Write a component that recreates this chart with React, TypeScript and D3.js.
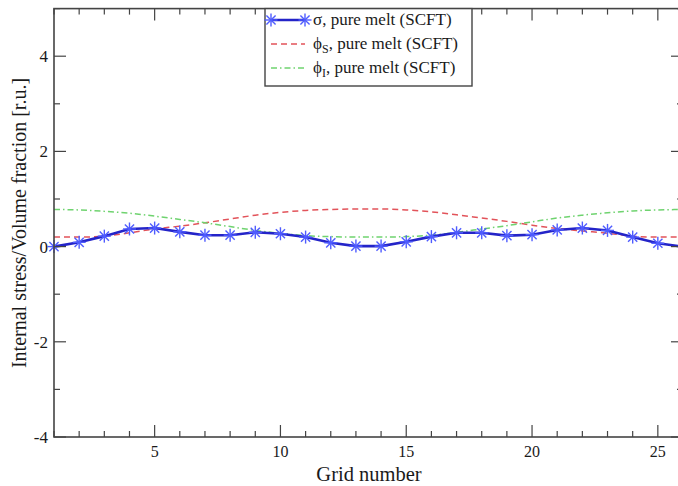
import React from "react";
import * as d3 from "d3";

const gridNumbers = d3.range(1, 27);
const sigma = [0.0, 0.09, 0.22, 0.37, 0.39, 0.31, 0.24, 0.24, 0.3, 0.27, 0.2, 0.08, 0.01, 0.01, 0.1, 0.21, 0.29, 0.29, 0.23, 0.25, 0.35, 0.39, 0.34, 0.2, 0.07, 0.0];
const phiS = [0.2, 0.2, 0.22, 0.29, 0.37, 0.43, 0.5, 0.58, 0.66, 0.72, 0.76, 0.78, 0.79, 0.79, 0.77, 0.73, 0.67, 0.6, 0.53, 0.45, 0.38, 0.33, 0.28, 0.22, 0.2, 0.2];
const phiI = [0.78, 0.77, 0.74, 0.7, 0.64, 0.57, 0.5, 0.42, 0.34, 0.28, 0.23, 0.21, 0.2, 0.2, 0.21, 0.24, 0.3, 0.37, 0.44, 0.52, 0.6, 0.66, 0.71, 0.75, 0.77, 0.78];
const xMajorTicks = [5, 10, 15, 20, 25];
const yMajorTicks = [-4, -2, 0, 2, 4];
const legendLabels = ["σ, pure melt (SCFT)", "ϕ", "ϕ"];

const W = 678;
const H = 486;
const L = 54, R = 683, T = 8.6, B = 437;
const FONT = "'Liberation Serif', 'DejaVu Serif', serif";
const AXIS = "#444";
const TXT = "#1a1a1a";
const BLUE = "#2424c8";
const STAR = "#4f5cff";
const RED = "#e2535a";
const GREEN = "#6fd36f";

function Star({ cx, cy, r }: { cx: number; cy: number; r: number }) {
  const angles = [0, 45, 90, 135];
  return (
    <g>
      {angles.map((a) => {
        const rad = (a * Math.PI) / 180;
        return (
          <line
            key={a}
            x1={cx - r * Math.cos(rad)}
            y1={cy - r * Math.sin(rad)}
            x2={cx + r * Math.cos(rad)}
            y2={cy + r * Math.sin(rad)}
            stroke={STAR}
            strokeWidth={1.4}
          />
        );
      })}
    </g>
  );
}

export default function App() {
  const x = d3.scaleLinear().domain([1, 26]).range([L, R]);
  const y = d3.scaleLinear().domain([-4, 5]).range([B, T]);

  const line = d3
    .line<number>()
    .x((_, i) => x(gridNumbers[i]))
    .y((d) => y(d));
  const smooth = d3
    .line<number>()
    .x((_, i) => x(gridNumbers[i]))
    .y((d) => y(d))
    .curve(d3.curveMonotoneX);

  const xMinor = d3.range(1, 27);
  const yMinor = d3.range(-4, 6);

  const lx1 = 271, lx2 = 305, ltx = 313;
  const rows = [20, 44, 68];

  return (
    <svg width={W} height={H} style={{ position: "absolute", left: 0, top: 0, background: "#fff" }}>
      <rect x={0} y={0} width={W} height={H} fill="#fff" />
      <path d={smooth(phiS) || ""} fill="none" stroke={RED} strokeWidth={1.5} strokeDasharray="6,4" />
      <path d={smooth(phiI) || ""} fill="none" stroke={GREEN} strokeWidth={1.5} strokeDasharray="6,3,1.5,3" />
      <path d={line(sigma) || ""} fill="none" stroke={BLUE} strokeWidth={2.6} />
      {sigma.map((v, i) => (
        <Star key={i} cx={x(gridNumbers[i])} cy={y(v)} r={6.5} />
      ))}

      <rect x={L} y={T} width={R - L} height={B - T} fill="none" stroke={AXIS} strokeWidth={1.6} />
      {xMinor.map((t) => {
        const major = xMajorTicks.includes(t);
        const len = major ? 12 : 6;
        return (
          <g key={"xt" + t}>
            <line x1={x(t)} x2={x(t)} y1={B} y2={B - len} stroke={AXIS} strokeWidth={1.2} />
            <line x1={x(t)} x2={x(t)} y1={T} y2={T + len} stroke={AXIS} strokeWidth={1.2} />
          </g>
        );
      })}
      {yMinor.map((t) => {
        const major = yMajorTicks.includes(t);
        const len = major ? 12 : 6;
        return (
          <g key={"yt" + t}>
            <line x1={L} x2={L + len} y1={y(t)} y2={y(t)} stroke={AXIS} strokeWidth={1.2} />
            <line x1={R} x2={R - len} y1={y(t)} y2={y(t)} stroke={AXIS} strokeWidth={1.2} />
          </g>
        );
      })}
      {xMajorTicks.map((t) => (
        <text key={"xl" + t} x={x(t)} y={B + 20} textAnchor="middle" fontFamily={FONT} fontSize={16} fill={TXT}>
          {t}
        </text>
      ))}
      {yMajorTicks.map((t) => (
        <text key={"yl" + t} x={L - 6} y={y(t) + 6} textAnchor="end" fontFamily={FONT} fontSize={17} fill={TXT}>
          {t}
        </text>
      ))}
      <text x={369} y={481} textAnchor="middle" fontFamily={FONT} fontSize={20.5} fill={TXT}>
        Grid number
      </text>
      <text
        transform={`translate(26, ${223}) rotate(-90)`}
        textAnchor="middle"
        fontFamily={FONT}
        fontSize={20}
        fill={TXT}
      >
        Internal stress/Volume fraction [r.u.]
      </text>

      <rect x={265} y={T} width={207} height={86 - T} fill="#fff" stroke={AXIS} strokeWidth={1.4} />
      <line x1={lx1} x2={lx2} y1={rows[0]} y2={rows[0]} stroke={BLUE} strokeWidth={2.6} />
      <Star cx={lx1} cy={rows[0]} r={6.5} />
      <Star cx={lx2} cy={rows[0]} r={6.5} />
      <text x={ltx} y={rows[0] + 5} fontFamily={FONT} fontSize={17} fill={TXT}>
        {legendLabels[0]}
      </text>
      <line x1={lx1} x2={lx2} y1={rows[1]} y2={rows[1]} stroke={RED} strokeWidth={1.5} strokeDasharray="6,4" />
      <text x={ltx} y={rows[1] + 5} fontFamily={FONT} fontSize={17} fill={TXT}>
        {legendLabels[1]}
        <tspan fontSize={12} dy={4}>S</tspan>
        <tspan dy={-4}>, pure melt (SCFT)</tspan>
      </text>
      <line x1={lx1} x2={lx2} y1={rows[2]} y2={rows[2]} stroke={GREEN} strokeWidth={1.5} strokeDasharray="6,3,1.5,3" />
      <text x={ltx} y={rows[2] + 5} fontFamily={FONT} fontSize={17} fill={TXT}>
        {legendLabels[2]}
        <tspan fontSize={12} dy={4}>I</tspan>
        <tspan dy={-4}>, pure melt (SCFT)</tspan>
      </text>
    </svg>
  );
}
